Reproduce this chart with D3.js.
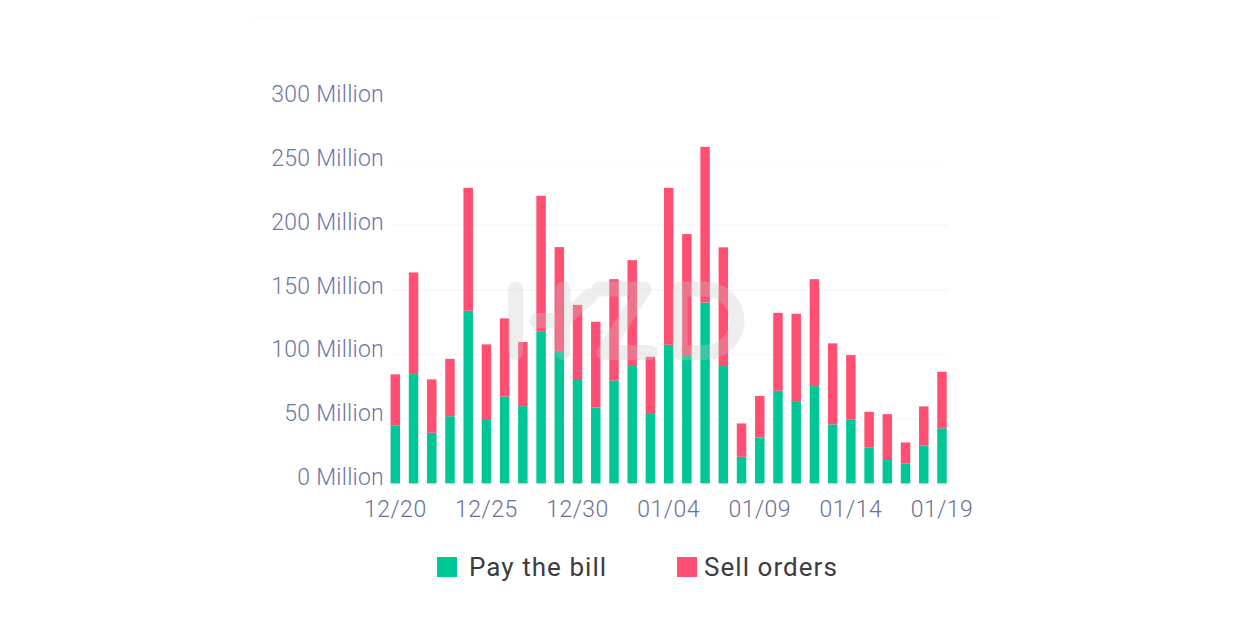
<!DOCTYPE html>
<html>
<head>
<meta charset="utf-8">
<script src="https://cdn.jsdelivr.net/npm/d3@7"></script>
<style>
  html, body { margin: 0; padding: 0; background: #fff; }
  svg { display: block; }
  text { font-family: Roboto, "Noto Sans", sans-serif; }
</style>
</head>
<body>
<svg id="chart" width="1254" height="641"></svg>
<script>
// values in millions
var days = ["12/20","12/21","12/22","12/23","12/24","12/25","12/26","12/27","12/28","12/29","12/30",
  "12/31","01/01","01/02","01/03","01/04","01/05","01/06","01/07","01/08","01/09","01/10","01/11",
  "01/12","01/13","01/14","01/15","01/16","01/17","01/18","01/19"];
var payTheBill = [44.6,84.6,39.2,52,133.6,49.8,67.3,59.8,117.3,102.6,80,58.8,79.7,90.8,54.4,107.3,
  99.3,140,90.8,20.6,35.6,71.7,63.7,75.3,45.7,49.5,27.9,18.8,15.5,29.4,42.6];
var sellOrders = [39.8,78.7,41.3,44.4,95.2,57.8,60.4,49.6,105.3,80.3,58.2,66.3,78.4,82,43.6,121.5,
  93.7,120.5,91.9,25.8,32,60.3,67.6,82.8,62.7,49.8,27.5,34.8,16.2,30.2,43.8];
var yTicks = [0,50,100,150,200,250,300];
var xLabels = ["12/20","12/25","12/30","01/04","01/09","01/14","01/19"];
var seriesNames = ["Pay the bill","Sell orders"];

var colors = { "Pay the bill": "#00c795", "Sell orders": "#ff5073" };

var svg = d3.select("#chart");

var x = d3.scaleBand().domain(days).range([386.2, 951.1]).paddingInner(0.48).paddingOuter(0.24);
var y = d3.scaleLinear().domain([0, 300]).range([483.4, 95.8]);
// tick labels sit a little above their gridlines and drift further down the axis
var yLabel = d3.scaleLinear().domain([0, 300]).range([476.5, 93.5]);

// faint frame line and gridlines
svg.append("rect").attr("x", 252).attr("y", 17).attr("width", 748).attr("height", 1).attr("fill", "#f8f8f8");
svg.append("g").selectAll("rect")
  .data(yTicks.slice(1))
  .join("rect")
  .attr("x", 390).attr("width", 558)
  .attr("y", d => y(d) - 0.5).attr("height", 1.5)
  .attr("fill", d => d > 200 ? "#fcfcfc" : "#f8f8f8");

// stacked bars
var rows = days.map((d, i) => ({ day: d, "Pay the bill": payTheBill[i], "Sell orders": sellOrders[i] }));
var stacked = d3.stack().keys(seriesNames)(rows);

svg.append("g").selectAll("g")
  .data(stacked)
  .join("g")
  .attr("fill", d => colors[d.key])
  .selectAll("rect")
  .data(d => d)
  .join("rect")
  .attr("x", d => x(d.data.day))
  .attr("width", x.bandwidth())
  .attr("y", d => y(d[1]))
  .attr("height", d => y(d[0]) - y(d[1]));

// watermark over the bars
svg.append("path")
  .attr("d", "M515.5 289V352.5 M563 289V352.5 M537 320.5H563 M563 320L590 296 M599 289H644L604 352.5H650 M680 289V352.5H705A32 31.7 0 0 0 705 289Z")
  .attr("fill", "none").attr("stroke", "#c8c8c8").attr("stroke-opacity", 0.3)
  .attr("stroke-width", 15).attr("stroke-linecap", "round").attr("stroke-linejoin", "round");

// y axis labels
var yAxis = d3.axisLeft(yLabel).tickValues(yTicks).tickSize(0).tickPadding(0).tickFormat(d => d + " Million");
var yG = svg.append("g").attr("transform", "translate(384,0)").call(yAxis);
yG.select(".domain").remove();
yG.selectAll("text").attr("fill", "#6c78a0").attr("font-size", 23).attr("font-weight", 300)
  .attr("letter-spacing", 0.25).attr("dy", "0.35em");

// x axis labels
var xAxis = d3.axisBottom(x).tickValues(xLabels).tickSize(0).tickPadding(0);
var xG = svg.append("g").attr("transform", "translate(0,508.5)").call(xAxis);
xG.select(".domain").remove();
xG.selectAll("text").attr("fill", "#6a7092").attr("font-size", 23).attr("font-weight", 300)
  .attr("letter-spacing", 0.5).attr("dy", "0.35em");

// legend
var legendX = d3.scaleOrdinal().domain(seriesNames).range([437, 677]);
var legend = svg.append("g").selectAll("g")
  .data(seriesNames)
  .join("g")
  .attr("transform", d => "translate(" + legendX(d) + ",557)");
legend.append("rect").attr("width", 20).attr("height", 20).attr("fill", d => colors[d]);
legend.append("text")
  .attr("x", d => d == "Pay the bill" ? 32 : 27)
  .attr("y", 10).attr("dy", "0.35em")
  .attr("font-size", 26).attr("letter-spacing", 1.05).attr("fill", "#3c3c40")
  .text(d => d);
</script>
</body>
</html>
